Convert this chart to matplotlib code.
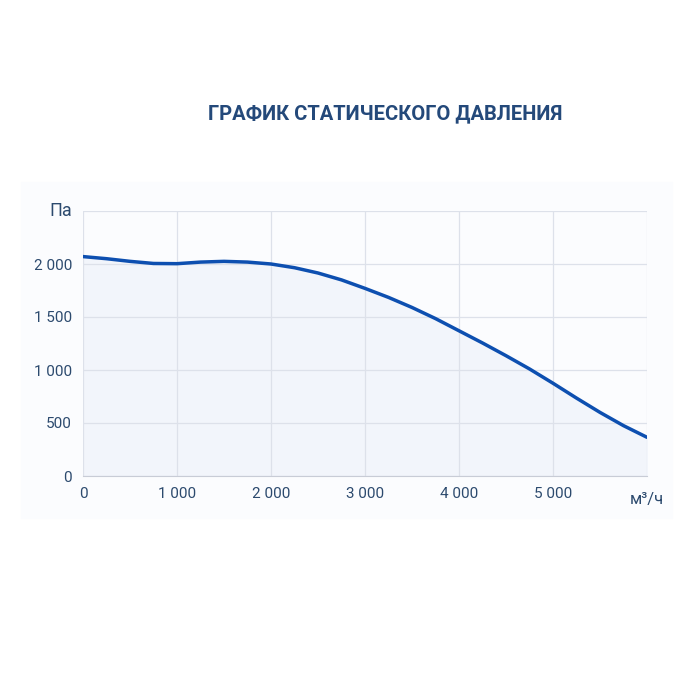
import numpy as np
import matplotlib.pyplot as plt

# Расход воздуха (м³/ч) и статическое давление (Па)
flow = [0, 250, 500, 750, 1000, 1250, 1500, 1750, 2000, 2250, 2500, 2750, 3000,
        3250, 3500, 3750, 4000, 4250, 4500, 4750, 5000, 5250, 5500, 5750, 6000]
pressure = [2070, 2050, 2025, 2005, 2003, 2018, 2025, 2018, 2000, 1965, 1915, 1850, 1770,
            1685, 1590, 1485, 1370, 1255, 1135, 1010, 875, 735, 600, 475, 365]

x_ticks = [0, 1000, 2000, 3000, 4000, 5000, 6000]
x_labels = ['0', '1 000', '2 000', '3 000', '4 000', '5 000', '']
y_ticks = [0, 500, 1000, 1500, 2000]
y_labels = ['0', '500', '1 000', '1 500', '2 000']

plt.rcParams['font.family'] = ['Roboto', 'DejaVu Sans']
fig = plt.figure(figsize=(7, 7), dpi=100)
fig.patch.set_facecolor('white')
fig.patches.append(plt.Rectangle((0.03, 0.26), 0.93, 0.48, transform=fig.transFigure,
                                 color='#fbfcfe', zorder=-5))
ax = fig.add_axes([83/700, 1-476/700, 564/700, 265/700])
ax.set_facecolor('none')
ax.set_zorder(2)

ax.fill_between(flow, pressure, 0, color='#f2f5fb', zorder=1)
ax.plot(flow, pressure, color='#0d4fb0', lw=2.5, zorder=3, solid_capstyle='round')

ax.set_xlim(0, 6000)
ax.set_ylim(0, 2500)
ax.set_xticks(x_ticks, x_labels)
ax.set_yticks(y_ticks + [2500], y_labels + [''])
ax.grid(color='#dde1ea', lw=0.9)
for s in ['top', 'right', 'left']:
    ax.spines[s].set_visible(False)
ax.spines['bottom'].set_color('#c8ccd6')
ax.tick_params(length=0, colors='#2c4a6e', labelsize=11, pad=8)

ax.text(-0.02, 1.0, 'Па', transform=ax.transAxes, ha='right', va='center',
        fontsize=13, color='#2c4a6e')
ax.text(1.0, -0.09, 'м³/ч', transform=ax.transAxes, ha='center', va='center',
        fontsize=12, color='#2c4a6e')
fig.text(0.55, 1-114/700, 'ГРАФИК СТАТИЧЕСКОГО ДАВЛЕНИЯ', ha='center', va='center',
         fontsize=14.5, fontweight='bold', color='#24497a')

fig.savefig('out.png', dpi=100)
